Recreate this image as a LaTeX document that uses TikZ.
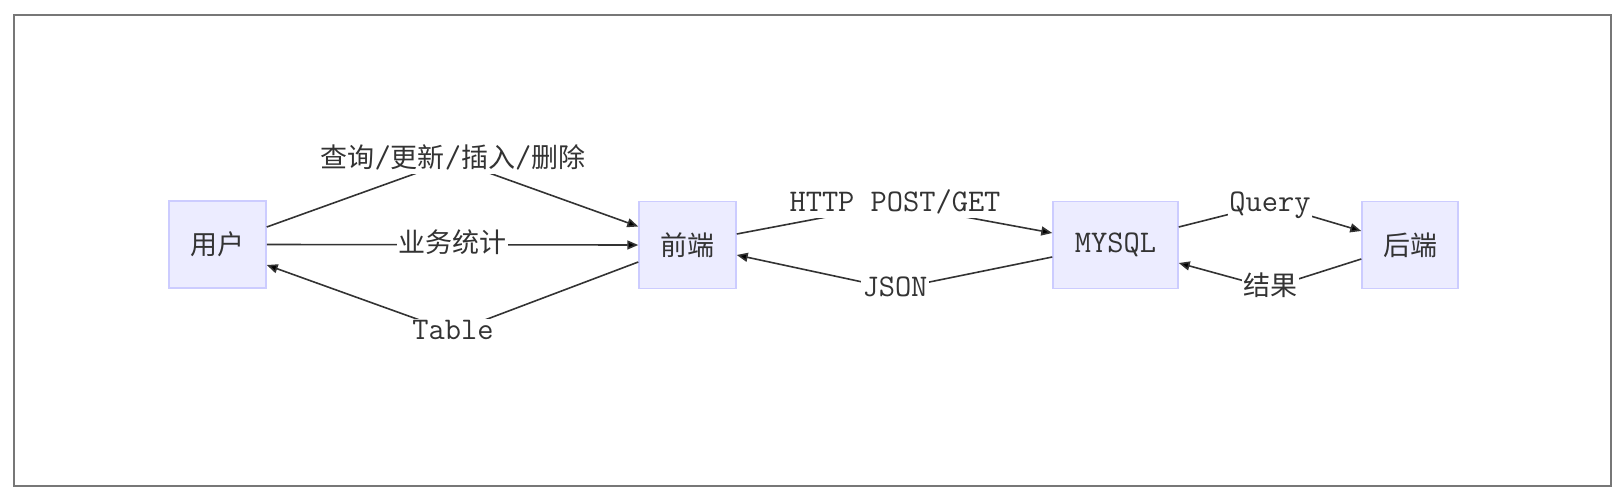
\documentclass[tikz,border=0pt]{standalone}
\usepackage{fontspec}
\newfontfamily\cjk{Noto Sans CJK SC}
\newcommand{\lat}{\ttfamily\fontsize{31.5}{35}\selectfont}
\usetikzlibrary{arrows.meta}
\definecolor{boxfill}{HTML}{ECECFF}
\definecolor{boxline}{HTML}{CCCCFF}
\definecolor{ink}{HTML}{333333}
\definecolor{framegray}{HTML}{777777}
\tikzset{
  box/.style={draw=boxline, fill=boxfill, line width=1.5pt, minimum height=87pt, inner sep=0pt, text=ink},
  lbl/.style={fill=white, inner sep=1.5pt, text=ink, text height=19pt, text depth=5pt},
  conn/.style={draw=ink, line width=1.6pt, -{Triangle[length=11pt,width=9pt,fill=black]}},
}
\begin{document}
\begin{tikzpicture}[x=1pt,y=-1pt,font=\fontsize{27}{32}\selectfont]
\useasboundingbox (0,0) rectangle (1622,498);
\draw[framegray, line width=2pt] (14,15) rectangle (1611,486);

\node[box, minimum width=97pt] (u) at (217.5,244.5) {\cjk 用户};
\node[box, minimum width=97pt] (f) at (687.5,245) {\cjk 前端};
\node[box, minimum width=125pt] (m) at (1115.5,245) {\lat MYSQL};
\node[box, minimum width=96pt] (b) at (1410,245) {\cjk 后端};

\coordinate (l1) at (453,160);
\coordinate (l3) at (453,332);
\coordinate (l4) at (895,204);
\coordinate (l5) at (895,289);
\coordinate (l6) at (1270,204);
\coordinate (l7) at (1270,288);

\draw[conn] ([yshift=17.5pt]u.east) -- (l1) -- ([yshift=18.5pt]f.west);
\draw[conn] (u.east) -- (f.west);
\draw[conn] ([yshift=-17pt]f.west) -- (l3) -- ([yshift=-20.5pt]u.east);
\draw[conn] ([yshift=11pt]f.east) -- (l4) -- ([yshift=12pt]m.west);
\draw[conn] ([yshift=-12pt]m.west) -- (l5) -- ([yshift=-10pt]f.east);
\draw[conn] ([yshift=18pt]m.east) -- (l6) -- ([yshift=14pt]b.west);
\draw[conn] ([yshift=-14pt]b.west) -- (l7) -- ([yshift=-18pt]m.east);

\node[lbl] (t1) at (l1) {{\cjk 查询}{\lat /}{\cjk 更新}{\lat /}{\cjk 插入}{\lat /}{\cjk 删除}};
\node[lbl] (t2) at (452,245) {\cjk 业务统计};
\node[lbl] (t3) at (l3) {\lat Table};
\node[lbl] (t4) at (l4) {\lat HTTP POST/GET};
\node[lbl] (t5) at (l5) {\lat JSON};
\node[lbl] (t6) at (l6) {\lat Query};
\node[lbl] (t7) at (l7) {\cjk 结果};
\end{tikzpicture}
\end{document}
